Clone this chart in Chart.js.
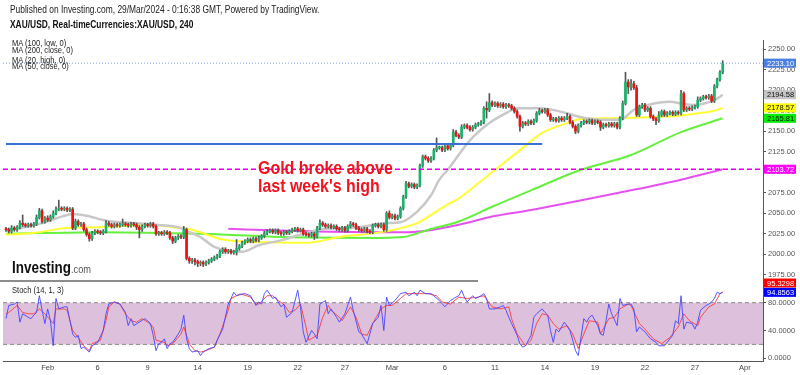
<!DOCTYPE html>
<html>
<head>
<meta charset="utf-8">
<script src="https://cdn.jsdelivr.net/npm/chart.js"></script>
<style>
  body { margin: 0; background: #fff; }
  #wrap { position: relative; width: 800px; height: 375px; overflow: hidden; font-family: "Liberation Sans", Arial, sans-serif; }
  canvas { position: absolute; left: 0; top: 0; }
  .t { position: absolute; white-space: nowrap; transform-origin: 0 50%; transform: scaleX(0.84); line-height: 1; }
</style>
</head>
<body>
<div id="wrap">
  <canvas id="stochChart" width="800" height="375"></canvas>
  <canvas id="precoChart" width="800" height="375"></canvas>
  <div style="position:absolute;left:0;top:280px;width:478px;height:2px;background:#8c8c8c"></div>
  <div class="t" style="left:10px;top:4.5px;font-size:10px;color:#222">Published on Investing.com, 29/Mar/2024 - 0:16:38 GMT, Powered by TradingView.</div>
  <div class="t" style="left:10px;top:20px;font-size:10px;font-weight:bold;color:#111">XAU/USD, Real-timeCurrencies:XAU/USD, 240</div>
  <div class="t" style="left:12px;top:38.8px;font-size:9px;color:#222">MA (100, low, 0)</div>
  <div class="t" style="left:12px;top:46.2px;font-size:9px;color:#222">MA (200, close, 0)</div>
  <div class="t" style="left:12px;top:55.5px;font-size:9px;color:#222">MA (20, high, 0)</div>
  <div class="t" style="left:12px;top:62.2px;font-size:9px;color:#222">MA (50, close, 0)</div>
  <div class="t" style="left:258px;top:157.5px;font-size:19px;font-weight:bold;color:#f0141e">Gold broke above</div>
  <div class="t" style="left:258px;top:175.5px;font-size:19px;font-weight:bold;color:#f0141e">last week's high</div>
  <div class="t" style="left:12px;top:260px;font-size:16px;font-weight:bold;color:#111">Investing<span style="font-size:11px;font-weight:normal;color:#555">.com</span></div>
  <div class="t" style="left:12px;top:285.5px;font-size:9px;color:#222">Stoch (14, 1, 3)</div>
</div>
<script>
Chart.defaults.font.family = "'Liberation Sans', Arial, sans-serif";

// candles de 4h, indice = posicao no tempo
const aberturaInicial = 2031;
const fechamentos = [
  2030, 2028, 2032, 2030, 2033, 2038, 2036, 2035, 2036, 2035,
  2037, 2045, 2053, 2040, 2044, 2042, 2046, 2050, 2055, 2056,
  2055, 2056, 2054, 2055, 2032, 2040, 2036, 2037, 2030, 2024,
  2019, 2026, 2028, 2027, 2026, 2028, 2038, 2036, 2034, 2036,
  2035, 2036, 2037, 2036, 2035, 2037, 2036, 2033, 2030, 2034,
  2036, 2035, 2037, 2034, 2025, 2026, 2025, 2027, 2026, 2020,
  2016, 2020, 2022, 2021, 2030, 1995, 1992, 1993, 1991, 1989,
  1990, 1988, 1990, 1992, 1994, 1996, 1998, 2003, 2006, 2003,
  2004, 2002, 2003, 2007, 2010, 2014, 2016, 2018, 2016, 2019,
  2017, 2020, 2022, 2026, 2028, 2029, 2027, 2029, 2026, 2025,
  2027, 2026, 2028, 2030, 2031, 2029, 2030, 2025, 2024, 2023,
  2025, 2022, 2032, 2038, 2036, 2034, 2035, 2033, 2034, 2031,
  2030, 2032, 2029, 2034, 2037, 2036, 2032, 2030, 2029, 2031,
  2028, 2027, 2035, 2036, 2034, 2036, 2030, 2050, 2045, 2047,
  2044, 2046, 2056, 2070, 2086, 2083, 2085, 2082, 2084, 2108,
  2119, 2117, 2114, 2117, 2127, 2130, 2130, 2127, 2132, 2129,
  2133, 2149, 2145, 2143, 2155, 2157, 2155, 2152, 2155, 2158,
  2159, 2161, 2178, 2176, 2185, 2182, 2184, 2181, 2183, 2180,
  2182, 2181, 2178, 2174, 2168, 2156, 2160, 2159, 2162, 2160,
  2163, 2172, 2175, 2174, 2176, 2170, 2164, 2165, 2163, 2166,
  2164, 2166, 2168, 2161, 2156, 2150, 2157, 2160, 2162, 2161,
  2163, 2160, 2162, 2161, 2155, 2158, 2157, 2159, 2157, 2159,
  2155, 2166, 2184, 2210, 2204, 2208, 2203, 2170, 2180, 2182,
  2176, 2178, 2168, 2165, 2163, 2170, 2174, 2170, 2172, 2173,
  2171, 2173, 2172, 2196, 2176, 2178, 2177, 2179, 2180, 2188,
  2190, 2192, 2191, 2193, 2187, 2205, 2213, 2222, 2233
];
const pavioCima = [
  2,2,3,2,2,3,10,2,2,2,  2,3,3,2,2,3,2,3,3,10,  2,2,2,2,2,3,2,2,2,2,  2,2,2,2,2,2,3,2,2,2,
  2,2,6,2,2,2,2,2,2,2,  2,2,2,2,2,2,2,2,2,2,  2,2,2,2,4,2,2,2,2,2,  2,2,2,2,2,2,2,2,2,2,
  2,2,2,11,2,2,2,2,2,2,  2,2,2,2,2,2,2,2,2,2,  2,2,2,2,2,2,2,2,2,2,  2,2,2,4,2,2,2,2,2,2,
  2,2,2,2,3,2,2,2,2,2,  2,2,2,2,2,2,2,2,3,2,  2,2,2,2,3,2,2,2,2,2,  2,2,2,2,2,12,2,2,2,2,
  2,3,2,2,3,2,2,2,2,2,  2,2,2,8,11,2,2,2,2,2,  2,2,2,2,2,2,2,2,2,2,  2,2,3,2,2,2,2,2,2,2,
  2,2,4,2,2,2,2,2,2,2,  2,2,2,2,2,2,2,2,2,2,  2,2,3,12,3,5,3,3,2,2,  2,2,2,2,2,4,2,2,2,2,
  2,2,2,4,2,2,2,2,2,4,  2,2,2,2,2,2,2,2,3
];
const pavioBaixo = [
  2,2,2,2,2,2,2,2,2,2,  2,2,2,2,2,2,2,2,2,2,  2,2,2,2,2,2,2,2,2,2,  3,2,2,2,2,2,2,2,2,2,
  2,2,2,2,2,2,2,3,10,2,  2,2,2,2,2,2,2,2,2,2,  3,2,2,2,2,2,3,3,4,4,  3,3,2,2,2,2,2,2,2,2,
  2,2,2,4,2,2,2,2,2,2,  2,2,2,2,2,2,2,2,2,2,  2,2,2,2,2,2,2,2,2,2,  2,4,2,2,2,2,2,2,2,2,
  2,2,2,2,2,2,2,2,2,2,  2,2,2,2,2,2,2,2,2,2,  2,2,2,2,2,2,2,2,2,2,  2,2,2,2,2,2,2,2,2,2,
  2,2,2,2,2,2,2,2,2,2,  2,2,2,10,2,2,2,2,2,2,  2,2,2,2,2,6,2,2,2,2,  2,2,2,2,2,2,2,2,2,2,
  2,2,2,2,2,3,2,2,2,2,  2,2,2,2,4,2,2,2,2,2,  2,2,2,2,8,4,2,2,2,2,  2,2,2,2,5,2,2,2,2,2,
  2,2,2,2,2,2,2,2,2,2,  2,2,2,2,2,2,2,2,2
];

// medias moveis [indice, preco]
const mediaCinza = [[0,2030],[5,2032],[13,2038],[22,2048],[24,2049],[29,2047],[36,2041],[46,2038],[54,2036],[63,2032],
  [66,2027],[70,2021],[75,2009],[85,2003],[91,2011],[99,2017],[106,2024],[113,2030],[120,2032],[127,2033],
  [137,2038],[142,2039],[148,2052],[153,2072],[156,2091],[159,2103],[167,2139],[174,2160],[180,2172],[184,2178],
  [192,2178],[202,2172],[207,2167],[214,2164],[221,2164],[226,2176],[231,2182],[239,2186],[243,2184],[247,2182],
  [255,2188],[258,2194.58]];
const mediaAmarela = [[0,2024],[10,2026],[22,2032],[34,2033],[52,2036],[60,2033],[67,2030],[78,2018],[90,2015],[108,2014],
  [120,2021],[135,2027],[148,2038],[159,2061],[162,2066],[172,2092],[185,2127],[193,2148],[202,2160],[207,2165],
  [221,2166],[231,2167],[242,2169],[249,2172],[255,2175],[258,2178.57]];
const mediaVerde = [[0,2025],[34,2027],[70,2025],[99,2021],[135,2020],[143,2021],[152,2030],[163,2040],[175,2058],
  [189,2078],[207,2103],[225,2121],[243,2149],[258,2165.81]];
const mediaMagenta = [[80,2031],[99,2029],[135,2027],[145,2027],[163,2036],[175,2046],[189,2054],[225,2078],[243,2091],[258,2103.72]];

// linhas horizontais
const suporteAzul = { inicio: 0, fim: 193, preco: 2134.5 };
const precoAtual = 2233.10;
const maximaSemana = 2103.72;

// estocastico [indice, valor]
const stochK = [[0,57],[1,76],[3,78],[4,81],[5,52],[6,64],[8,59],[9,57],[10,62],[11,66],[12,90],[13,69],[14,50],[15,71],[16,54],[17,18],[18,86],[19,71],[21,74],[22,74],[24,35],[25,30],[26,33],[27,14],[28,16],[30,9],[31,18],[33,23],[35,40],[36,64],[37,78],[39,81],[41,78],[43,66],[44,47],[45,57],[46,47],[48,52],[50,57],[52,50],[53,33],[54,11],[55,21],[56,23],[57,28],[58,14],[59,21],[60,23],[62,35],[63,42],[64,62],[65,28],[66,14],[67,9],[69,11],[70,4],[71,9],[73,14],[75,16],[76,26],[78,42],[80,78],[81,86],[82,95],[83,90],[84,92],[86,93],[88,90],[90,76],[91,81],[92,78],[93,93],[94,98],[96,86],[97,88],[99,74],[100,78],[101,59],[103,66],[105,98],[106,74],[107,38],[108,23],[110,40],[111,35],[112,28],[113,78],[115,83],[116,64],[117,71],[119,59],[120,52],[122,64],[124,88],[125,69],[127,38],[128,35],[130,21],[132,50],[134,59],[135,76],[136,40],[137,88],[138,76],[140,83],[142,93],[144,95],[145,90],[147,95],[148,90],[149,98],[151,93],[153,93],[154,90],[156,83],[158,74],[160,83],[162,88],[163,90],[164,98],[165,88],[166,81],[168,90],[169,86],[171,90],[172,93],[173,86],[174,71],[176,71],[178,74],[179,76],[180,69],[181,59],[182,50],[184,33],[185,21],[186,16],[187,18],[189,33],[190,59],[191,64],[193,71],[194,66],[195,62],[196,40],[197,23],[198,42],[199,38],[201,52],[203,40],[204,26],[205,11],[206,4],[208,57],[209,52],[210,59],[211,62],[213,47],[214,35],[215,33],[216,54],[217,78],[218,64],[220,47],[221,86],[222,76],[224,78],[225,78],[226,71],[227,38],[228,45],[230,38],[232,28],[234,23],[235,18],[237,18],[238,23],[240,33],[241,54],[242,50],[243,90],[244,42],[245,52],[247,50],[248,42],[249,52],[250,69],[252,76],[253,78],[254,81],[255,86],[256,95],[257,93],[258,94.8563]];
const stochD = [[0,64],[1,66],[4,76],[6,66],[8,64],[10,64],[12,71],[14,64],[17,50],[18,71],[21,71],[22,69],[24,40],[26,30],[28,18],[30,11],[31,21],[34,26],[36,54],[37,74],[39,81],[41,78],[43,64],[45,54],[47,52],[49,57],[51,52],[53,45],[54,26],[57,23],[58,18],[60,21],[63,35],[64,45],[66,21],[68,11],[70,9],[72,11],[75,16],[77,35],[80,69],[81,86],[83,90],[85,92],[88,88],[90,78],[91,78],[94,90],[96,90],[98,83],[100,78],[102,66],[104,69],[106,78],[108,45],[109,26],[112,33],[114,59],[116,76],[117,69],[120,59],[121,54],[124,74],[126,59],[128,35],[130,33],[132,50],[135,71],[137,76],[139,76],[142,86],[144,93],[148,93],[152,93],[155,90],[157,81],[160,78],[163,88],[166,86],[170,88],[172,90],[175,74],[178,71],[181,74],[182,57],[184,35],[187,18],[189,26],[191,50],[193,64],[195,62],[197,50],[199,42],[202,47],[204,35],[206,14],[208,35],[210,54],[213,52],[214,35],[217,57],[219,59],[221,71],[224,78],[225,76],[228,50],[230,42],[233,28],[236,21],[239,30],[242,45],[244,64],[246,54],[249,47],[250,59],[253,74],[255,78],[257,93],[258,95.3298]];

// eixos
const ticksPreco = [1975, 2000, 2025, 2050, 2075, 2100, 2125, 2150, 2175, 2200, 2225, 2250];
const ticksStoch = [0, 40, 80];
const diasIdx = [15, 33, 51, 69, 87, 105, 122, 139, 158, 176, 194, 212, 230, 248, 266];
const diasRotulos = ['Feb', '6', '9', '14', '19', '22', '27', 'Mar', '6', '11', '14', '19', '22', '27', 'Apr'];
const xMin = -1.08;
const xMax = 272.5;

const verde = '#19b36b';
const vermelho = '#f01010';

let corpos = [];
let pavios = [];
let cores = [];
for (let i = 0; i < fechamentos.length; i++) {
    let abre = i == 0 ? aberturaInicial : fechamentos[i - 1];
    let fecha = fechamentos[i];
    corpos.push({ x: i, y: [abre, fecha] });
    pavios.push({ x: i, y: [Math.min(abre, fecha) - pavioBaixo[i], Math.max(abre, fecha) + pavioCima[i]] });
    cores.push(fecha >= abre ? verde : vermelho);
}

function pontos(lista) {
    return lista.map(p => ({ x: p[0], y: p[1] }));
}

function linha(dados, cor, largura, extra) {
    return Object.assign({
        type: 'line',
        data: dados,
        borderColor: cor,
        borderWidth: largura,
        pointRadius: 0,
        fill: false
    }, extra || {});
}

function etiquetas(valores, fundos, letras, deslocamentos, casas) {
    return {
        id: 'etiquetas',
        afterDraw(chart) {
            const ctx = chart.ctx;
            const y = chart.scales.y;
            ctx.save();
            ctx.font = "7.5px 'Liberation Sans', Arial, sans-serif";
            ctx.textBaseline = 'middle';
            for (let i = 0; i < valores.length; i++) {
                const py = y.getPixelForValue(valores[i]) + deslocamentos[i];
                ctx.fillStyle = fundos[i];
                ctx.fillRect(764, py - 4.5, 32, 9);
                ctx.fillStyle = letras[i];
                ctx.fillText(valores[i].toFixed(casas), 767, py + 0.5);
            }
            ctx.restore();
        }
    };
}

const eixoY = {
    position: 'right',
    afterFit: s => { s.width = 37; },
    ticks: { font: { size: 7.5 }, color: '#555', padding: 2 },
    grid: { drawOnChartArea: false, tickLength: 3, color: '#555' },
    border: { display: true, color: '#555' }
};

new Chart(document.getElementById('precoChart'), {
    type: 'bar',
    data: {
        datasets: [
            linha([{ x: suporteAzul.inicio, y: suporteAzul.preco }, { x: suporteAzul.fim, y: suporteAzul.preco }], '#3b6fd6', 2, { order: -1 }),
            linha([{ x: xMin, y: precoAtual }, { x: xMax, y: precoAtual }], '#7d9ce6', 1, { borderDash: [1, 2], order: -1 }),
            linha([{ x: xMin, y: maximaSemana }, { x: xMax, y: maximaSemana }], '#e000e0', 1.5, { borderDash: [5, 3], order: -1 }),
            { type: 'bar', data: corpos, backgroundColor: cores, barThickness: 2, minBarLength: 1, grouped: false, order: 0 },
            { type: 'bar', data: pavios, backgroundColor: '#555', barThickness: 1, grouped: false, order: 1 },
            linha(pontos(mediaCinza), '#c8c8c8', 2.5, { cubicInterpolationMode: 'monotone', order: 2 }),
            linha(pontos(mediaAmarela), '#ffff33', 2, { cubicInterpolationMode: 'monotone', order: 2 }),
            linha(pontos(mediaVerde), '#64f03c', 2, { cubicInterpolationMode: 'monotone', order: 2 }),
            linha(pontos(mediaMagenta), '#e650f0', 2, { cubicInterpolationMode: 'monotone', order: 2 })
        ]
    },
    options: {
        responsive: false,
        animation: false,
        events: [],
        layout: { padding: { left: 3, top: 40, right: 0, bottom: 93 } },
        plugins: { legend: { display: false }, tooltip: { enabled: false } },
        scales: {
            x: { type: 'linear', min: xMin, max: xMax, display: false, offset: false },
            y: Object.assign({}, eixoY, {
                min: 1966.2,
                max: 2261.3,
                afterBuildTicks: s => { s.ticks = ticksPreco.map(v => ({ value: v })); },
                ticks: Object.assign({}, eixoY.ticks, { callback: v => v.toFixed(2) })
            })
        }
    },
    plugins: [etiquetas(
        [precoAtual, 2194.58, 2178.57, 2165.81, maximaSemana],
        ['#4a7fe3', '#c4c4c4', '#ffff00', '#00ee00', '#ff00ff'],
        ['#fff', '#111', '#111', '#111', '#fff'],
        [0, 0, 0, 0, 0], 2)]
});

new Chart(document.getElementById('stochChart'), {
    type: 'line',
    data: {
        datasets: [
            linha([{ x: xMin, y: 80 }, { x: xMax, y: 80 }], '#8a8a8a', 1, { borderDash: [4, 3], order: 5 }),
            linha([{ x: xMin, y: 20 }, { x: xMax, y: 20 }], '#8a8a8a', 1, { borderDash: [4, 3], order: 6, fill: '-1', backgroundColor: '#dcc0dc' }),
            linha(pontos(stochD), 'rgba(255,60,60,0.9)', 1, { order: 1 }),
            linha(pontos(stochK), 'rgba(70,70,255,0.9)', 1, { order: 0 })
        ]
    },
    options: {
        responsive: false,
        animation: false,
        events: [],
        layout: { padding: { left: 3, top: 283, right: 0, bottom: 0 } },
        plugins: { legend: { display: false }, tooltip: { enabled: false } },
        scales: {
            x: {
                type: 'linear', min: xMin, max: xMax, offset: false,
                afterFit: s => { s.height = 14; },
                afterBuildTicks: s => { s.ticks = diasIdx.map(v => ({ value: v })); },
                ticks: { autoSkip: false, maxRotation: 0, padding: 2, font: { size: 7.5 }, color: '#444',
                         callback: (v, i) => diasRotulos[i] },
                grid: { display: false, drawTicks: false, tickLength: 0 },
                border: { display: true, color: '#555' }
            },
            y: Object.assign({}, eixoY, {
                min: -3.9,
                max: 108.3,
                afterBuildTicks: s => { s.ticks = ticksStoch.map(v => ({ value: v })); },
                ticks: Object.assign({}, eixoY.ticks, { callback: v => v.toFixed(4) })
            })
        }
    },
    plugins: [etiquetas(
        [95.3298, 94.8563],
        ['#ff0000', '#0000ff'],
        ['#fff', '#fff'],
        [-9, 0], 4)]
});
</script>
</body>
</html>
